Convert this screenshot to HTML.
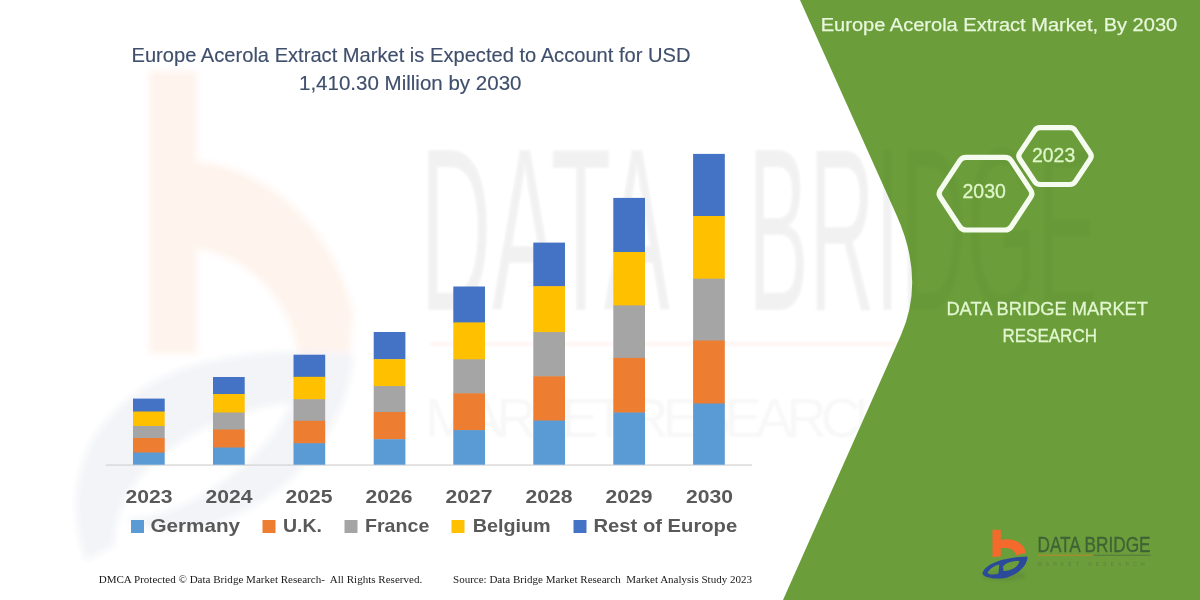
<!DOCTYPE html>
<html>
<head>
<meta charset="utf-8">
<title>Europe Acerola Extract Market</title>
<style>
html,body{margin:0;padding:0;background:#fff;}
body{width:1200px;height:600px;overflow:hidden;position:relative;font-family:"Liberation Sans",sans-serif;}
svg{position:absolute;left:0;top:0;display:block;}
text{font-family:"Liberation Sans",sans-serif;}
.serif{font-family:"Liberation Serif",serif;}
</style>
</head>
<body>
<svg width="1200" height="600" viewBox="0 0 1200 600">
  <defs>
    <filter id="blur6" x="-10%" y="-10%" width="120%" height="120%"><feGaussianBlur stdDeviation="3"/></filter>
    <filter id="blur1" x="-20%" y="-50%" width="140%" height="200%"><feGaussianBlur stdDeviation="1.5"/></filter>
    <filter id="blur05" x="-5%" y="-20%" width="110%" height="140%"><feGaussianBlur stdDeviation="0.35"/></filter>
    <filter id="blur2" x="-10%" y="-10%" width="120%" height="120%"><feGaussianBlur stdDeviation="1.2"/></filter>
  </defs>
  <rect x="0" y="0" width="1200" height="600" fill="#ffffff"/>

  <!-- watermark: big faint b logo -->
  <g filter="url(#blur6)">
    <g opacity="0.07" fill="#ee5a2e">
      <rect x="149" y="71" width="48" height="283"/>
      <path d="M197 162 C 262 166, 332 222, 353 312 L 350 353 L 298 353 C 290 300, 250 257, 197 249 Z"/>
    </g>
    <g opacity="0.07" fill="#4a5f90">
      <path d="M86 560 C 56 470, 100 392, 200 364 C 260 349, 320 351, 353 354 C 345 470, 215 560, 125 520 C 195 518, 275 450, 292 402 C 220 408, 112 462, 114 545 Z"/>
    </g>
  </g>

  <!-- watermark text (under panel) -->
  <g filter="url(#blur2)" opacity="0.022" fill="#000">
    <text x="420" y="310" font-size="160" textLength="250" lengthAdjust="spacingAndGlyphs" transform="translate(0,310) scale(1,1.45) translate(0,-310)">DATA</text>
    <text x="748" y="310" font-size="160" textLength="350" lengthAdjust="spacingAndGlyphs" transform="translate(0,310) scale(1,1.45) translate(0,-310)">BRIDGE</text>
  </g>
  <rect x="430" y="342" width="470" height="4" fill="#f26a2a" opacity="0.05" filter="url(#blur2)"/>
  <g filter="url(#blur2)" opacity="0.028" fill="#000">
    <text x="425" y="437" font-size="56" textLength="470" lengthAdjust="spacing">MARKET RESEARCH</text>
  </g>

  <!-- green panel -->
  <path id="panel" d="M800 0 L896.5 215 Q925.5 279.6 901 335 L783 600 L1200 600 L1200 0 Z" fill="#6b9e3a"/>

  <!-- watermark text (over panel, very faint) -->
  <g filter="url(#blur2)" opacity="0.022" fill="#000">
    <text x="420" y="310" font-size="160" textLength="250" lengthAdjust="spacingAndGlyphs" transform="translate(0,310) scale(1,1.45) translate(0,-310)">DATA</text>
    <text x="748" y="310" font-size="160" textLength="350" lengthAdjust="spacingAndGlyphs" transform="translate(0,310) scale(1,1.45) translate(0,-310)">BRIDGE</text>
  </g>
  <!-- axis line -->
  <rect x="106" y="464.5" width="646" height="1.1" fill="#cdcdcd"/>

  <!-- bars -->
  <g>
    <!-- 2023 -->
    <rect x="133" y="398.6" width="31.7" height="13.4" fill="#4472c4"/>
    <rect x="133" y="411.5" width="31.7" height="15" fill="#ffc000"/>
    <rect x="133" y="426" width="31.7" height="12.5" fill="#a5a5a5"/>
    <rect x="133" y="438" width="31.7" height="15" fill="#ed7d31"/>
    <rect x="133" y="452.5" width="31.7" height="12.2" fill="#5b9bd5"/>
    <!-- 2024 -->
    <rect x="213" y="377" width="31.7" height="17.5" fill="#4472c4"/>
    <rect x="213" y="394" width="31.7" height="19" fill="#ffc000"/>
    <rect x="213" y="412.5" width="31.7" height="17.5" fill="#a5a5a5"/>
    <rect x="213" y="429.5" width="31.7" height="18.5" fill="#ed7d31"/>
    <rect x="213" y="447.5" width="31.7" height="17.2" fill="#5b9bd5"/>
    <!-- 2025 -->
    <rect x="293.5" y="354.7" width="31.7" height="22.5" fill="#4472c4"/>
    <rect x="293.5" y="376.8" width="31.7" height="23" fill="#ffc000"/>
    <rect x="293.5" y="399.2" width="31.7" height="22" fill="#a5a5a5"/>
    <rect x="293.5" y="420.8" width="31.7" height="23" fill="#ed7d31"/>
    <rect x="293.5" y="443.2" width="31.7" height="21.5" fill="#5b9bd5"/>
    <!-- 2026 -->
    <rect x="373.7" y="332" width="31.7" height="27.5" fill="#4472c4"/>
    <rect x="373.7" y="359.2" width="31.7" height="27.5" fill="#ffc000"/>
    <rect x="373.7" y="386.1" width="31.7" height="26.5" fill="#a5a5a5"/>
    <rect x="373.7" y="412" width="31.7" height="27.5" fill="#ed7d31"/>
    <rect x="373.7" y="439.2" width="31.7" height="25.5" fill="#5b9bd5"/>
    <!-- 2027 -->
    <rect x="453.3" y="286.5" width="31.7" height="36.5" fill="#4472c4"/>
    <rect x="453.3" y="322.4" width="31.7" height="37.5" fill="#ffc000"/>
    <rect x="453.3" y="359.3" width="31.7" height="34.5" fill="#a5a5a5"/>
    <rect x="453.3" y="393.3" width="31.7" height="37.5" fill="#ed7d31"/>
    <rect x="453.3" y="430.1" width="31.7" height="34.6" fill="#5b9bd5"/>
    <!-- 2028 -->
    <rect x="533.3" y="242.6" width="31.7" height="44" fill="#4472c4"/>
    <rect x="533.3" y="286.2" width="31.7" height="46.5" fill="#ffc000"/>
    <rect x="533.3" y="332.1" width="31.7" height="44.7" fill="#a5a5a5"/>
    <rect x="533.3" y="376.3" width="31.7" height="44.7" fill="#ed7d31"/>
    <rect x="533.3" y="420.5" width="31.7" height="44.2" fill="#5b9bd5"/>
    <!-- 2029 -->
    <rect x="613.3" y="197.9" width="31.7" height="54.5" fill="#4472c4"/>
    <rect x="613.3" y="252" width="31.7" height="54" fill="#ffc000"/>
    <rect x="613.3" y="305.4" width="31.7" height="53" fill="#a5a5a5"/>
    <rect x="613.3" y="357.9" width="31.7" height="55" fill="#ed7d31"/>
    <rect x="613.3" y="412.5" width="31.7" height="52.2" fill="#5b9bd5"/>
    <!-- 2030 -->
    <rect x="693.1" y="153.9" width="31.7" height="62.5" fill="#4472c4"/>
    <rect x="693.1" y="216" width="31.7" height="63" fill="#ffc000"/>
    <rect x="693.1" y="278.7" width="31.7" height="62.3" fill="#a5a5a5"/>
    <rect x="693.1" y="340.5" width="31.7" height="63.5" fill="#ed7d31"/>
    <rect x="693.1" y="403.5" width="31.7" height="61.2" fill="#5b9bd5"/>
  </g>

  <!-- chart title -->
  <g fill="#3f4f6c" stroke="#3f4f6c" stroke-width="0.15" font-size="19.8">
    <text x="131.5" y="62.2" textLength="559" lengthAdjust="spacingAndGlyphs">Europe Acerola Extract Market is Expected to Account for USD</text>
    <text x="299" y="89.6" textLength="222.5" lengthAdjust="spacingAndGlyphs">1,410.30 Million by 2030</text>
  </g>

  <!-- x axis labels -->
  <g fill="#595959" font-size="18.6" font-weight="bold">
    <text x="125.5" y="503" textLength="47" lengthAdjust="spacingAndGlyphs">2023</text>
    <text x="205.5" y="503" textLength="47" lengthAdjust="spacingAndGlyphs">2024</text>
    <text x="285.5" y="503" textLength="47" lengthAdjust="spacingAndGlyphs">2025</text>
    <text x="365.5" y="503" textLength="47" lengthAdjust="spacingAndGlyphs">2026</text>
    <text x="445.5" y="503" textLength="47" lengthAdjust="spacingAndGlyphs">2027</text>
    <text x="525.5" y="503" textLength="47" lengthAdjust="spacingAndGlyphs">2028</text>
    <text x="605.5" y="503" textLength="47" lengthAdjust="spacingAndGlyphs">2029</text>
    <text x="686" y="503" textLength="47" lengthAdjust="spacingAndGlyphs">2030</text>
  </g>

  <!-- legend -->
  <g>
    <rect x="131" y="520" width="13" height="13" fill="#5b9bd5"/>
    <rect x="262.5" y="520" width="13" height="13" fill="#ed7d31"/>
    <rect x="344.5" y="520" width="13" height="13" fill="#a5a5a5"/>
    <rect x="451.5" y="520" width="13" height="13" fill="#ffc000"/>
    <rect x="573.5" y="520" width="13" height="13" fill="#4472c4"/>
  </g>
  <g fill="#595959" font-size="19" font-weight="bold">
    <text x="150.5" y="531.8" textLength="89.5" lengthAdjust="spacingAndGlyphs">Germany</text>
    <text x="283" y="531.8" textLength="39" lengthAdjust="spacingAndGlyphs">U.K.</text>
    <text x="365" y="531.8" textLength="64.3" lengthAdjust="spacingAndGlyphs">France</text>
    <text x="472.7" y="531.8" textLength="78" lengthAdjust="spacingAndGlyphs">Belgium</text>
    <text x="593.5" y="531.8" textLength="143.7" lengthAdjust="spacingAndGlyphs">Rest of Europe</text>
  </g>

  <!-- footer -->
  <g class="serif" fill="#1a1a1a" font-size="11">
    <text class="serif" x="98.7" y="582.7" textLength="323.5" lengthAdjust="spacingAndGlyphs" xml:space="preserve">DMCA Protected © Data Bridge Market Research-  All Rights Reserved.</text>
    <text class="serif" x="453" y="582.7" textLength="299" lengthAdjust="spacingAndGlyphs" xml:space="preserve">Source: Data Bridge Market Research  Market Analysis Study 2023</text>
  </g>

  <!-- right panel title -->
  <text x="820.7" y="31" font-size="19.1" fill="#e8f6dc" stroke="#e8f6dc" stroke-width="0.25" textLength="356.5" lengthAdjust="spacingAndGlyphs">Europe Acerola Extract Market, By 2030</text>

  <!-- hexagons -->
  <g fill="none" stroke="#f6fbf0" stroke-width="5.2" stroke-linejoin="round">
    <path d="M940.2 197.0 Q938.0 193.7 940.2 190.4 L959.8 160.6 Q962.0 157.3 966.0 157.3 L1005.0 157.3 Q1009.0 157.3 1011.2 160.6 L1030.8 190.4 Q1033.0 193.7 1030.8 197.0 L1011.2 226.7 Q1009.0 230.0 1005.0 230.0 L966.0 230.0 Q962.0 230.0 959.8 226.7 Z"/>
    <path d="M1019.7 159.0 Q1017.8 156.1 1019.7 153.2 L1034.7 130.6 Q1036.6 127.7 1040.1 127.7 L1069.9 127.7 Q1073.4 127.7 1075.3 130.6 L1090.3 153.2 Q1092.2 156.1 1090.3 159.0 L1075.3 181.6 Q1073.4 184.5 1069.9 184.5 L1040.1 184.5 Q1036.6 184.5 1034.7 181.6 Z"/>
  </g>
  <g fill="#dff6c9" stroke="#dff6c9" stroke-width="0.3" font-size="20.5">
    <text x="962.5" y="197.5" textLength="43.4" lengthAdjust="spacingAndGlyphs">2030</text>
    <text x="1032" y="161.8" textLength="43.2" lengthAdjust="spacingAndGlyphs">2023</text>
  </g>

  <!-- DBMR text -->
  <g fill="#e2f6cf" stroke="#e2f6cf" stroke-width="0.3" font-size="18.8">
    <text x="946.4" y="315" textLength="201.6" lengthAdjust="spacingAndGlyphs">DATA BRIDGE MARKET</text>
    <text x="1002.4" y="342" textLength="94.6" lengthAdjust="spacingAndGlyphs">RESEARCH</text>
  </g>

  <!-- logo -->
  <g>
    <ellipse cx="1004" cy="576" rx="22" ry="5" fill="#4a5a40" opacity="0.18" filter="url(#blur1)"/>
    <path d="M992.5 529.7 H1000.8 V540 C1012 537.3, 1024.5 542, 1025.6 553 L1016 555.3 C1015.2 549.5, 1009 547, 1000.8 548.2 V556.3 L992.5 557.2 Z" fill="#f4692c"/>
    <path fill-rule="evenodd" d="M982.5 574 C 983 564.5, 1003 557, 1027.6 556.4 C 1027.5 568, 1012 579, 998 578.6 C 990 578.3, 984.5 577, 982.5 574 Z M1003 566.5 C 1006 562.5, 1013 560.8, 1019.5 561 C 1018.5 567, 1010 571.5, 1003.5 571 Z M 987.5 573 C 989.5 568.5, 995 565.5, 999.3 564.5 L 998.5 573.5 C 995 574.8, 990 575, 987.5 573 Z" fill="#2c4a9c"/>
    <g filter="url(#blur05)">
    <text x="1037.5" y="552" font-size="16" fill="#3f6236" stroke="#3f6236" stroke-width="0.25" textLength="113" lengthAdjust="spacingAndGlyphs" transform="translate(0,552.4) scale(1,1.42) translate(0,-552)">DATA BRIDGE</text>
    <rect x="1037.5" y="554.6" width="56" height="1.3" fill="#b58a2c" opacity="0.85"/>
    <rect x="1093.5" y="554.6" width="57" height="1.3" fill="#55793f" opacity="0.85"/>
    <text x="1037.5" y="566" font-size="5" fill="#5a8240" textLength="107" lengthAdjust="spacing">MARKET RESEARCH</text>
    </g>
  </g>
</svg>
</body>
</html>
